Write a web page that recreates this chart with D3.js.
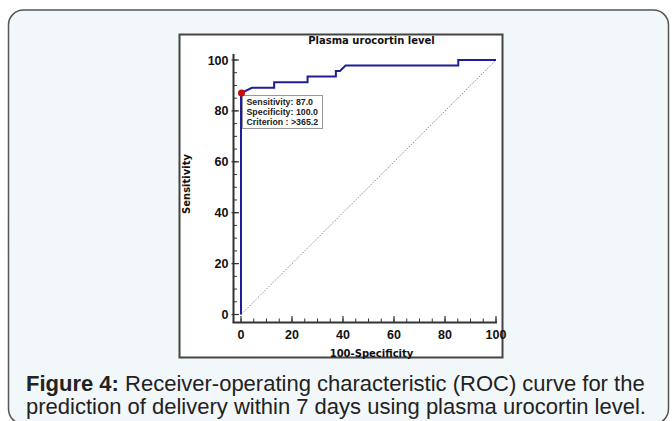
<!DOCTYPE html>
<html>
<head>
<meta charset="utf-8">
<script src="https://cdn.jsdelivr.net/npm/d3@7"></script>
<style>
  html, body { margin: 0; padding: 0; background: #fff; }
  svg { display: block; font-family: "Liberation Sans", Arial, sans-serif; }
</style>
</head>
<body>
<div class="canvas"></div>
<script>
// ROC data
const fprValues  = [0, 0, 4.3, 13.0, 13.0, 26.1, 26.1, 37.2, 37.2, 38.8, 41.0, 85.2, 85.2, 100];
const sensValues = [0, 87.0, 89.1, 89.1, 91.3, 91.3, 93.5, 93.5, 95.7, 95.7, 97.8, 97.8, 100, 100];
const cutoffPoint = { fpr: 0, sens: 87.0 };
const cutoffLabels = ['Sensitivity: 87.0', 'Specificity: 100.0', 'Criterion : >365.2'];
const majorTicks = [0, 20, 40, 60, 80, 100];
const minorTicks = d3.range(0, 101, 5);
const chartTitle = 'Plasma urocortin level';
const xLabel = '100-Specificity';
const yLabel = 'Sensitivity';

const W = 672, H = 421;
const chartFont = '"DejaVu Sans", Verdana, sans-serif';

const svg = d3.select('.canvas')
  .append('svg')
  .attr('width', W)
  .attr('height', H);

// outer caption panel
svg.append('rect')
  .attr('x', 8.5).attr('y', 10)
  .attr('width', 660).attr('height', 414)
  .attr('rx', 15).attr('ry', 15)
  .attr('fill', '#f2f7fa')
  .attr('stroke', '#555')
  .attr('stroke-width', 1.5);

// white chart frame
svg.append('rect')
  .attr('x', 179.5).attr('y', 34.5)
  .attr('width', 323).attr('height', 323)
  .attr('fill', '#fff')
  .attr('stroke', '#444')
  .attr('stroke-width', 2);

// scales
const x = d3.scaleLinear().domain([0, 100]).range([241, 496]);
const y = d3.scaleLinear().domain([0, 100]).range([314.5, 60]);

const axisX0 = 233.5;   // y axis line position
const axisY0 = 322.5;   // x axis line position

const g = svg.append('g');

// diagonal reference line
g.append('line')
  .attr('x1', x(0)).attr('y1', y(0))
  .attr('x2', x(100)).attr('y2', y(100))
  .attr('stroke', '#888')
  .attr('stroke-width', 1)
  .attr('stroke-dasharray', '1.5,1.5');

// axis lines
g.append('line')
  .attr('x1', axisX0).attr('y1', 54)
  .attr('x2', axisX0).attr('y2', axisY0)
  .attr('stroke', '#333').attr('stroke-width', 2);
g.append('line')
  .attr('x1', axisX0 - 1).attr('y1', axisY0)
  .attr('x2', x(100) + 1).attr('y2', axisY0)
  .attr('stroke', '#333').attr('stroke-width', 2);

// minor ticks
g.selectAll('.ytick-minor')
  .data(minorTicks)
  .enter().append('line')
    .attr('x1', axisX0).attr('x2', axisX0 + 3.5)
    .attr('y1', d => y(d)).attr('y2', d => y(d))
    .attr('stroke', '#333').attr('stroke-width', 1);
g.selectAll('.xtick-minor')
  .data(minorTicks)
  .enter().append('line')
    .attr('y1', axisY0).attr('y2', axisY0 - 4)
    .attr('x1', d => x(d)).attr('x2', d => x(d))
    .attr('stroke', '#333').attr('stroke-width', 1);

// major ticks
g.selectAll('.ytick-major')
  .data(majorTicks)
  .enter().append('line')
    .attr('x1', axisX0 - 2).attr('x2', axisX0 + 5.5)
    .attr('y1', d => y(d)).attr('y2', d => y(d))
    .attr('stroke', '#333').attr('stroke-width', 1.2);
g.selectAll('.xtick-major')
  .data(majorTicks)
  .enter().append('line')
    .attr('y1', axisY0).attr('y2', axisY0 - 6.5)
    .attr('x1', d => x(d)).attr('x2', d => x(d))
    .attr('stroke', '#333').attr('stroke-width', 1.2);

// tick labels
g.selectAll('.ylabel')
  .data(majorTicks)
  .enter().append('text')
    .attr('x', 228.5)
    .attr('y', d => y(d) + 4.5)
    .attr('text-anchor', 'end')
    .attr('font-size', 12.5)
    .attr('font-weight', 'bold')
    .attr('fill', '#111')
    .text(d => d);
g.selectAll('.xlabel')
  .data(majorTicks)
  .enter().append('text')
    .attr('x', d => x(d))
    .attr('y', 338.5)
    .attr('text-anchor', 'middle')
    .attr('font-size', 12.5)
    .attr('font-weight', 'bold')
    .attr('fill', '#111')
    .text(d => d);

// titles
svg.append('text')
  .attr('x', 371.5).attr('y', 43.5)
  .attr('text-anchor', 'middle')
  .attr('font-family', chartFont)
  .attr('font-size', 10)
  .attr('font-weight', 'bold')
  .attr('fill', '#111')
  .text(chartTitle);
svg.append('text')
  .attr('x', 371.5).attr('y', 356.5)
  .attr('text-anchor', 'middle')
  .attr('font-family', chartFont)
  .attr('font-size', 10)
  .attr('font-weight', 'bold')
  .attr('fill', '#111')
  .text(xLabel);
svg.append('text')
  .attr('transform', 'translate(190,184) rotate(-90)')
  .attr('text-anchor', 'middle')
  .attr('font-family', chartFont)
  .attr('font-size', 10)
  .attr('font-weight', 'bold')
  .attr('fill', '#111')
  .text(yLabel);

// ROC curve
const rocData = fprValues.map((v, i) => ({ fpr: v, sens: sensValues[i] }));
const line = d3.line()
  .x(d => x(d.fpr))
  .y(d => y(d.sens));
g.append('path')
  .datum(rocData)
  .attr('d', line)
  .attr('fill', 'none')
  .attr('stroke', '#1e1e96')
  .attr('stroke-width', 2);

// cut-off info box
const box = g.append('g').attr('transform', 'translate(242.5,95.5)');
box.append('rect')
  .attr('width', 80).attr('height', 33)
  .attr('fill', '#fff')
  .attr('stroke', '#999')
  .attr('stroke-width', 1);
box.selectAll('text')
  .data(cutoffLabels)
  .enter().append('text')
    .attr('x', 4)
    .attr('y', (d, i) => 9.8 + i * 10)
    .attr('font-size', 8.8)
    .attr('font-weight', 'bold')
    .attr('fill', '#222')
    .text(d => d);

// cut-off point
g.append('circle')
  .attr('cx', x(cutoffPoint.fpr) + 0.5)
  .attr('cy', y(cutoffPoint.sens))
  .attr('r', 3.5)
  .attr('fill', '#cc0a0a');

// caption
const cap = svg.append('text')
  .attr('font-size', 22)
  .attr('fill', '#222');
cap.append('tspan')
  .attr('x', 26).attr('y', 391)
  .attr('font-weight', 'bold')
  .text('Figure 4:');
cap.append('tspan')
  .text(' Receiver-operating characteristic (ROC) curve for the');
cap.append('tspan')
  .attr('x', 26).attr('y', 414)
  .text('prediction of delivery within 7 days using plasma urocortin level.');
</script>
</body>
</html>
